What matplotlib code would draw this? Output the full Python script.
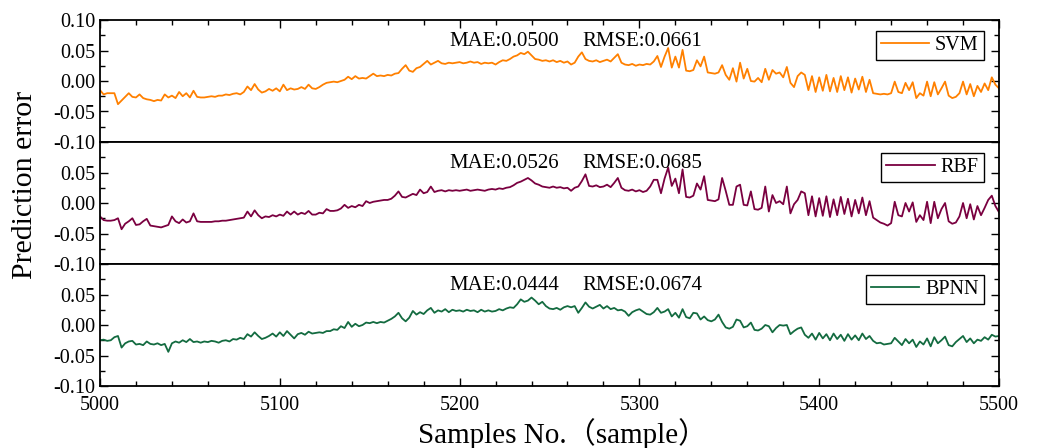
import numpy as np
import matplotlib
matplotlib.use("Agg")
import matplotlib.pyplot as plt
from matplotlib.ticker import MultipleLocator

plt.rcParams["font.family"] = ["Liberation Serif", "DejaVu Serif"]

# sample index (every 2nd sample)
samples = np.arange(5000, 5501, 2)

# prediction errors, in units of 1e-3
svm_err = [
    -15, -22, -20, -20, -20, -38, -32, -26, -20, -26,
    -27, -22, -28, -30, -31, -33, -31, -32, -22, -27,
    -24, -28, -18, -25, -20, -27, -16, -26, -27, -27,
    -26, -25, -26, -24, -24, -22, -23, -21, -20, -22,
    -18, -9, -15, -5, -14, -19, -17, -13, -16, -12,
    -17, -6, -15, -12, -14, -13, -10, -13, -6, -12,
    -13, -10, -6, -3, -2, -1, -2, 0, 2, 7,
    3, 8, 4, 5, 4, 8, 12, 8, 9, 8,
    10, 9, 12, 13, 20, 26, 17, 15, 21, 23,
    28, 33, 27, 30, 33, 29, 28, 30, 29, 30,
    31, 29, 30, 32, 30, 31, 28, 30, 29, 30,
    27, 31, 34, 33, 36, 40, 42, 46, 44, 48,
    42, 36, 35, 33, 34, 32, 34, 31, 33, 30,
    32, 27, 30, 40, 47, 36, 33, 32, 34, 31,
    33, 35, 32, 38, 44, 30, 27, 26, 28, 25,
    27, 26, 28, 27, 32, 41, 23, 40, 54, 22,
    40, 22, 51, 17, 16, 18, 34, 24, 40, 14,
    13, 12, 14, 26, 10, 2, 21, -1, 30, 4,
    20, 0, -1, 5, -2, 20, 2, 18, 12, 14,
    6, 23, -3, -10, 8, 14, 10, -15, 8, -18,
    6, -16, 10, -17, 5, -18, 8, -15, 6, -19,
    4, -14, 7, -18, 2, -20, -21, -22, -21, -22,
    -20, -1, -18, -20, -3, -15, -2, -28, -20, -24,
    -1, -25, -2, -22, -12, -1, -24, -28, -26, -20,
    -1, -22, -5, -25, -8, -18, -4, -15, 6, -6,
    -12,
]
rbf_err = [
    -22, -28, -29, -29, -28, -25, -43, -34, -30, -25,
    -36, -35, -30, -26, -37, -38, -39, -40, -38, -36,
    -22, -30, -33, -27, -32, -30, -17, -30, -31, -31,
    -31, -31, -30, -30, -29, -29, -28, -27, -26, -25,
    -24, -14, -22, -12, -20, -25, -22, -23, -20, -22,
    -19, -21, -14, -19, -14, -19, -16, -18, -13, -19,
    -19, -16, -17, -10, -13, -13, -12, -9, -3, -8,
    -5, -7, -3, -5, 3, 0, 2, 3, 4, 5,
    5, 7, 12, 19, 10, 9, 12, 15, 13, 22,
    16, 18, 27, 18, 20, 21, 19, 21, 20, 21,
    20, 21, 22, 20, 21, 22, 21, 20, 22, 23,
    22, 24, 23, 25, 26, 29, 33, 35, 38, 41,
    37, 32, 30, 27, 26, 25, 27, 25, 26, 24,
    25, 20, 25, 27, 36, 47, 28, 27, 29, 26,
    27, 30, 26, 33, 41, 25, 21, 20, 22, 19,
    21, 18, 20, 27, 38, 38, 16, 40, 58, 28,
    40, 16, 55, 10, 9, 12, 32, 22, 44, 5,
    4, 3, 6, 41, 20, -3, -3, 27, 30, -3,
    -4, 19, -10, -11, -8, 27, -14, 13, 0, 3,
    -2, 27, -17, -2, 5, 19, 16, -20, 11, -22,
    8, -21, 11, -23, 6, -20, 10, -18, 7, -22,
    5, -17, 9, -20, 3, -24, -28, -32, -34, -37,
    -33, 2, -20, -22, 0, -14, 1, -31, -20, -28,
    2, -33, 2, -25, -10, 0, -30, -34, -32, -22,
    0, -25, -2, -27, -5, -20, -8, 5, 12, -5,
    -15,
]
bpnn_err = [
    -25, -24, -26, -25, -20, -18, -37, -30, -27, -26,
    -32, -31, -33, -27, -31, -32, -30, -33, -31, -44,
    -30, -27, -29, -25, -28, -23, -28, -27, -29, -27,
    -28, -26, -27, -29, -26, -25, -27, -23, -24, -21,
    -23, -15, -19, -12, -18, -23, -21, -18, -14, -19,
    -12, -18, -10, -16, -22, -15, -13, -16, -11, -14,
    -13, -12, -13, -10, -10, -7, -8, -2, -5, 5,
    -3, 2, -2, 0, 4, 3, 5, 3, 5, 4,
    7, 10, 14, 20, 11, 6, 12, 23, 17, 21,
    18, 24, 28, 20, 24, 22, 26, 21, 25, 23,
    24, 22, 25, 23, 24, 21, 25, 22, 24, 22,
    23, 26, 24, 27, 29, 28, 34, 42, 38, 40,
    45, 40, 34, 38, 31, 27, 26, 28, 25, 29,
    31, 29, 31, 20, 28, 37, 30, 27, 30, 33,
    27, 31, 26, 28, 24, 25, 22, 15, 21, 24,
    26, 22, 18, 17, 21, 28, 20, 22, 26, 14,
    20, 12, 26, 13, 11, 20, 19, 9, 14, 8,
    6, 9, 17, 5, -4, -6, -3, 9, 7, -4,
    -2, 4, -8, -9, -6, 0, -2, -12, -5, 0,
    -1, 0, -15, -10, -6, -4, -16, -21, -14, -24,
    -13, -22, -15, -25, -14, -23, -16, -26, -15, -24,
    -17, -25, -14, -23, -18, -26, -30, -29, -32, -31,
    -30, -21, -27, -33, -23, -30, -24, -36, -27, -32,
    -22, -35, -20, -30, -25, -19, -33, -35, -28, -23,
    -18, -28, -22, -30, -24, -26, -20, -24, -16, -19,
    -18,
]

models = ["SVM", "RBF", "BPNN"]
mae = ["0.0500", "0.0526", "0.0444"]
rmse = ["0.0661", "0.0685", "0.0674"]
colors = ["#FF8000", "#7A0040", "#136B40"]
series = [svm_err, rbf_err, bpnn_err]

fig = plt.figure(figsize=(10.47, 4.48), dpi=100)
fig.patch.set_facecolor("white")

left, right = 100 / 1047, 999 / 1047
tops = [20, 142, 264]
height = 122

for i, (name, err, color) in enumerate(zip(models, series, colors)):
    top = tops[i]
    ax = fig.add_axes([left, 1 - (top + height) / 448, right - left, height / 448])
    ax.plot(samples, np.array(err) / 1000, color=color, lw=1.3, label=name)
    ax.set_xlim(5000, 5500)
    ax.set_ylim(-0.1, 0.1)

    ax.xaxis.set_major_locator(MultipleLocator(100))
    ax.xaxis.set_minor_locator(MultipleLocator(20))
    ax.yaxis.set_minor_locator(MultipleLocator(0.025))
    ax.tick_params(which="both", direction="in", width=1.0,
                   left=True, right=True, labelsize=14.5,
                   top=(i == 0), bottom=(i == 2), labelbottom=(i == 2))
    ax.tick_params(which="major", length=5.5)
    ax.tick_params(which="minor", length=3.5)
    ax.tick_params(axis="x", pad=7)
    ticks = [-0.10, -0.05, 0.00, 0.05, 0.10]
    ax.set_yticks(ticks)
    labels = [f"{t:.2f}" for t in ticks]
    if i > 0:
        labels[-1] = ""
    ax.set_yticklabels(labels)
    for sp in ax.spines.values():
        sp.set_linewidth(1.3)

    ax.text(0.389, 0.82, f"MAE:{mae[i]}", transform=ax.transAxes,
            fontsize=15, va="center", ha="left")
    ax.text(0.537, 0.82, f"RMSE:{rmse[i]}", transform=ax.transAxes,
            fontsize=15, va="center", ha="left")

    leg = ax.legend(loc="upper right", bbox_to_anchor=(0.983, 0.91),
                    borderaxespad=0, fontsize=14.5, handlelength=2.4,
                    handletextpad=0.3, borderpad=0.25, fancybox=False,
                    framealpha=1)
    leg.get_frame().set_edgecolor("black")
    leg.get_frame().set_linewidth(1.0)

fig.text(25 / 1047, 0.588, "Prediction error", rotation=90,
         fontsize=21.5, va="center", ha="center")
fig.text(0.537, 0.033, "Samples No.（sample）", fontsize=21,
         va="center", ha="center",
         family=["Liberation Serif", "Noto Sans CJK SC"])

fig.savefig("out.png", dpi=100)
